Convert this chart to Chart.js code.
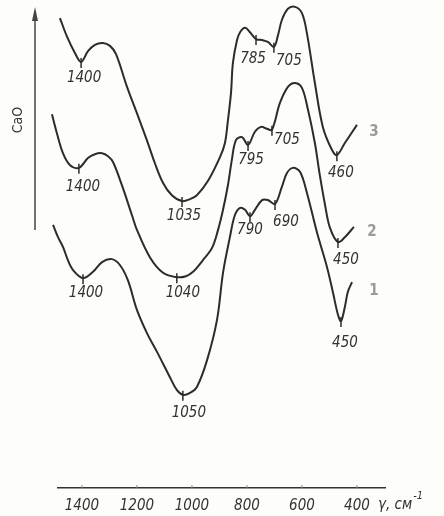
<!DOCTYPE html>
<html>
<head>
<meta charset="utf-8">
<script src="https://cdn.jsdelivr.net/npm/chart.js@4.4.1/dist/chart.umd.min.js"></script>
<style>
  body { margin: 0; background: #fdfdf9; }
  canvas { display: block; }
</style>
</head>
<body>
<canvas id="irChart" width="444" height="516"></canvas>
<script>
// IR spectra, wavenumber in cm-1 and relative transmission (arbitrary units)
const wave1 = [1505, 1487, 1469, 1451, 1433, 1396, 1360, 1327, 1291, 1262, 1233, 1200, 1164, 1127, 1080, 1055,
    1033, 1007, 982, 945, 909, 887, 862, 844, 825, 807, 789, 771, 745, 724, 698, 673, 655, 633, 607, 582,
    545, 509, 487, 469, 458, 444, 433, 418];
const trans1 = [53.9, 51.4, 49.4, 46.7, 44.7, 43.0, 44.3, 46.3, 46.9, 45.7, 42.6, 36.5, 31.8, 27.9, 22.7, 20.1,
    19.1, 19.5, 20.7, 26.2, 34.4, 44.1, 51.4, 55.9, 57.4, 57.0, 55.7, 57.0, 59.0, 59.0, 58.2, 61.7, 64.5, 65.6, 64.8, 60.5,
    52.3, 45.3, 40.0, 35.5, 34.2, 37.1, 40.2, 42.2];

const wave2 = [1509, 1491, 1469, 1444, 1411, 1378, 1353, 1327, 1305, 1287, 1255, 1218, 1200, 1153, 1105, 1055,
    1022, 996, 960, 927, 905, 887, 869, 855, 840, 818, 796, 771, 749, 727, 709, 680, 651, 625, 600, 578,
    553, 535, 516, 498, 469, 444, 411];
const trans2 = [76.6, 72.7, 68.6, 66.2, 65.6, 67.6, 68.4, 68.6, 68.0, 66.8, 62.1, 55.9, 52.9, 47.3, 44.1, 43.2,
    43.4, 44.3, 46.7, 49.2, 52.9, 57.0, 62.1, 67.2, 71.3, 71.9, 70.3, 73.0, 74.0, 73.6, 73.4, 78.9, 82.2, 83.0, 82.0, 77.5,
    70.7, 64.1, 58.0, 53.3, 50.4, 51.4, 53.5];

const wave3 = [1480, 1455, 1425, 1403, 1378, 1353, 1324, 1298, 1276, 1236, 1200, 1164, 1135, 1105, 1073, 1036,
    1007, 982, 942, 898, 880, 869, 858, 851, 836, 825, 807, 789, 767, 745, 724, 702, 687, 673, 651,
    625, 600, 582, 553, 524, 491, 473, 444, 400];
const trans3 = [96.3, 92.6, 89.1, 87.3, 89.5, 90.8, 91.2, 90.6, 88.9, 82.2, 76.8, 71.3, 66.6, 62.5, 60.0, 58.8,
    59.2, 60.0, 62.9, 67.8, 70.7, 75.4, 80.9, 87.1, 91.8, 93.4, 94.3, 93.4, 92.0, 91.8, 91.4, 90.4, 92.8, 95.9, 98.2,
    98.6, 97.3, 93.2, 83.0, 74.0, 69.3, 68.2, 70.7, 74.4];

// marked band positions (index into the arrays) and their labels
const marks1 = [5, 16, 26, 30, 40];
const markText1 = ['1400', '1050', '790', '690', '450'];
const marks2 = [4, 15, 26, 30, 40];
const markText2 = ['1400', '1040', '795', '705', '450'];
const marks3 = [3, 15, 28, 31, 41];
const markText3 = ['1400', '1035', '785', '705', '460'];

const tickValues = [1400, 1200, 1000, 800, 600, 400];
const curveNames = ['1', '2', '3'];

const ink = '#2c2c2c';
const family = '"DejaVu Sans Condensed", "Liberation Sans Narrow", "DejaVu Sans", sans-serif';
const labelFont = 'italic 15px ' + family;

// label offsets from the marked point (text centre)
const labelShift = [
    [[3, 15], [6, 18], [0, 14], [11, 18], [4, 22]],
    [[4, 19], [6, 16], [3, 15], [15, 10], [8, 18]],
    [[3, 16], [2, 15], [-3, 20], [15, 14], [4, 18]]
];
const nameShift = [[22, 9], [18, 5], [17, 7]];

function toPoints(w, t) {
    return w.map((x, i) => ({ x: x, y: t[i] }));
}

const bandPlugin = {
    id: 'bands',
    beforeDraw(chart) {
        const c = chart.ctx;
        c.save();
        c.fillStyle = '#fdfdf9';
        c.fillRect(0, 0, chart.width, chart.height);
        c.restore();
    },
    afterDatasetsDraw(chart) {
        const c = chart.ctx;
        const xs = chart.scales.x;
        const ys = chart.scales.y;
        const all = [[wave1, trans1, marks1, markText1], [wave2, trans2, marks2, markText2], [wave3, trans3, marks3, markText3]];
        c.save();
        c.strokeStyle = ink;
        c.fillStyle = '#333';
        c.lineWidth = 1.5;
        c.font = labelFont;
        c.textAlign = 'center';
        c.textBaseline = 'middle';
        all.forEach((s, k) => {
            s[2].forEach((idx, j) => {
                const px = xs.getPixelForValue(s[0][idx]);
                const py = ys.getPixelForValue(s[1][idx]);
                c.beginPath();
                c.moveTo(px, py - 4);
                c.lineTo(px, py + 6);
                c.stroke();
                c.fillText(s[3][j], px + labelShift[k][j][0], py + labelShift[k][j][1]);
            });
            // curve number at the right end
            const last = s[0].length - 1;
            c.save();
            c.fillStyle = '#9a9a9a';
            c.font = 'bold 15px ' + family;
            c.fillText(curveNames[k], xs.getPixelForValue(s[0][last]) + nameShift[k][0], ys.getPixelForValue(s[1][last]) + nameShift[k][1]);
            c.restore();
        });

        // small tick marks on the wavenumber axis
        c.strokeStyle = '#888';
        c.lineWidth = 1;
        tickValues.forEach(v => {
            const px = xs.getPixelForValue(v);
            c.beginPath();
            c.moveTo(px, chart.chartArea.bottom - 3);
            c.lineTo(px, chart.chartArea.bottom);
            c.stroke();
        });

        // axis name
        const ax = chart.chartArea.right - 7;
        const ay = chart.chartArea.bottom + 17;
        c.fillStyle = '#333';
        c.textAlign = 'left';
        c.font = 'italic 15px ' + family;
        c.fillText('γ, см', ax, ay);
        const wdt = c.measureText('γ, см').width;
        c.font = 'italic 11px ' + family;
        c.fillText('-1', ax + wdt + 1, ay - 9);

        // CaO arrow on the left
        const lx = chart.chartArea.left - 23;
        c.strokeStyle = '#444';
        c.lineWidth = 1.5;
        c.beginPath();
        c.moveTo(lx, 230);
        c.lineTo(lx, 16);
        c.stroke();
        c.fillStyle = '#444';
        c.beginPath();
        c.moveTo(lx, 7);
        c.lineTo(lx - 3, 21);
        c.lineTo(lx + 3, 21);
        c.closePath();
        c.fill();

        c.save();
        c.translate(18, 120);
        c.rotate(-Math.PI / 2);
        c.fillStyle = '#333';
        c.textAlign = 'center';
        c.font = '14px ' + family;
        c.fillText('CaO', 0, 0);
        c.restore();

        c.restore();
    }
};

function lineSet(w, t) {
    return {
        data: toPoints(w, t),
        borderColor: ink,
        borderWidth: 2,
        pointRadius: 0,
        tension: 0.35,
        fill: false,
        clip: false
    };
}

const chart = new Chart(document.getElementById('irChart'), {
    type: 'line',
    data: {
        datasets: [lineSet(wave1, trans1), lineSet(wave2, trans2), lineSet(wave3, trans3)]
    },
    options: {
        responsive: false,
        animation: false,
        layout: { padding: { left: 58, right: 59, top: 0, bottom: -9 } },
        plugins: {
            legend: { display: false },
            tooltip: { enabled: false }
        },
        scales: {
            x: {
                type: 'linear',
                reverse: true,
                min: 298,
                max: 1487,
                afterBuildTicks: (scale) => {
                    scale.ticks = tickValues.map(v => ({ value: v }));
                },
                grid: { display: false, drawTicks: false },
                border: { display: true, color: '#333', width: 1.5 },
                ticks: {
                    color: '#333',
                    padding: 11,
                    maxRotation: 0,
                    autoSkip: false,
                    callback: (v) => String(v),
                    font: { family: family, size: 15, style: 'italic', lineHeight: 1 }
                }
            },
            y: {
                display: false,
                min: 0,
                max: 100
            }
        }
    },
    plugins: [bandPlugin]
});
</script>
</body>
</html>
